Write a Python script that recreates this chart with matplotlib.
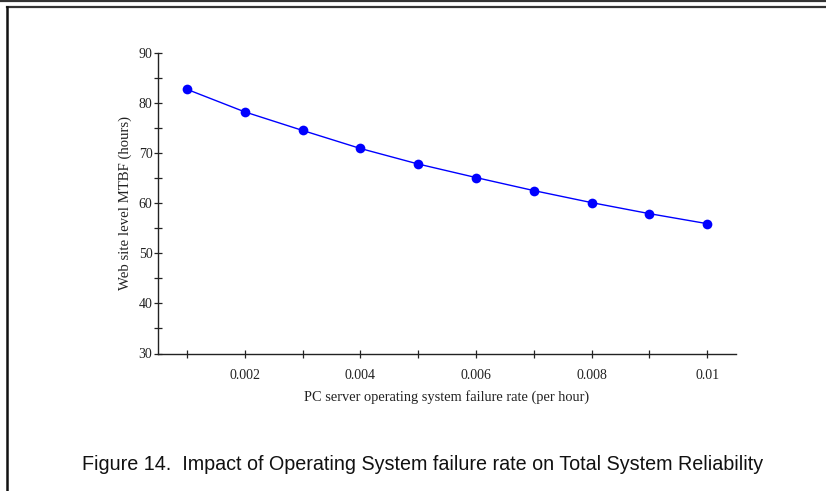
import matplotlib
matplotlib.use("Agg")
import matplotlib.pyplot as plt
from matplotlib.lines import Line2D
from matplotlib.ticker import MultipleLocator, FixedLocator, FixedFormatter

# Operating system failure rate (per hour) and resulting web site MTBF (hours)
failure_rate = [0.001, 0.002, 0.003, 0.004, 0.005, 0.006, 0.007, 0.008, 0.009, 0.010]
mtbf_hours = [82.7, 78.2, 74.5, 70.9, 67.8, 65.1, 62.5, 60.1, 57.9, 55.9]

x_tick_values = [0.002, 0.004, 0.006, 0.008, 0.010]
x_tick_labels = ["0.002", "0.004", "0.006", "0.008", "0.01"]

W, H = 826, 491
fig = plt.figure(figsize=(W / 100, H / 100), dpi=100)

serif = ["Liberation Serif", "DejaVu Serif"]

ax = fig.add_axes([158 / W, 1 - 353.5 / H, (736 - 158) / W, (353.5 - 52.7) / H])
ax.plot(failure_rate, mtbf_hours, color="#0000ff", linewidth=1.0,
        marker="o", markersize=7.0, markeredgewidth=0)

ax.set_xlim(0.0005, 0.0105)
ax.set_ylim(30, 90)
for s in ("top", "right"):
    ax.spines[s].set_visible(False)
for s in ("left", "bottom"):
    ax.spines[s].set_color("#222222")
    ax.spines[s].set_linewidth(1.0)

ax.xaxis.set_major_locator(FixedLocator(x_tick_values))
ax.xaxis.set_major_formatter(FixedFormatter(x_tick_labels))
ax.xaxis.set_minor_locator(MultipleLocator(0.001))
ax.yaxis.set_major_locator(MultipleLocator(10))
ax.yaxis.set_minor_locator(MultipleLocator(5))

ax.tick_params(which="both", direction="inout", length=6, width=0.9, color="#222222")
ax.tick_params(axis="x", which="major", pad=8)
ax.tick_params(axis="y", which="major", pad=1)
for lab in ax.get_xticklabels() + ax.get_yticklabels():
    lab.set_fontfamily(serif)
    lab.set_fontsize(10)
    lab.set_color("#222222")

ax.set_xlabel("PC server operating system failure rate (per hour)", fontfamily=serif,
              fontsize=10.4, color="#222222", labelpad=6)
ax.set_ylabel("Web site level MTBF (hours)", fontfamily=serif,
              fontsize=10.6, color="#222222", labelpad=5)

fig.text(423 / W, 1 - 465 / H,
         "Figure 14.  Impact of Operating System failure rate on Total System Reliability",
         ha="center", va="center", fontsize=14.2,
         fontfamily=["Liberation Sans Narrow", "Liberation Sans", "DejaVu Sans"],
         color="#111111")

# Page frame: double rule along the top and a rule down the left side
def fig_line(xs, ys, lw, color):
    fig.add_artist(Line2D([x / W for x in xs], [1 - y / H for y in ys],
                          transform=fig.transFigure, linewidth=lw, color=color))

fig_line([0, W], [1.0, 1.0], 1.6, "#333333")
fig_line([6.5, W], [7.3, 7.3], 1.6, "#333333")
fig_line([6.5, 6.5], [6.5, H], 1.8, "#111111")

fig.savefig("out.png", dpi=100)
